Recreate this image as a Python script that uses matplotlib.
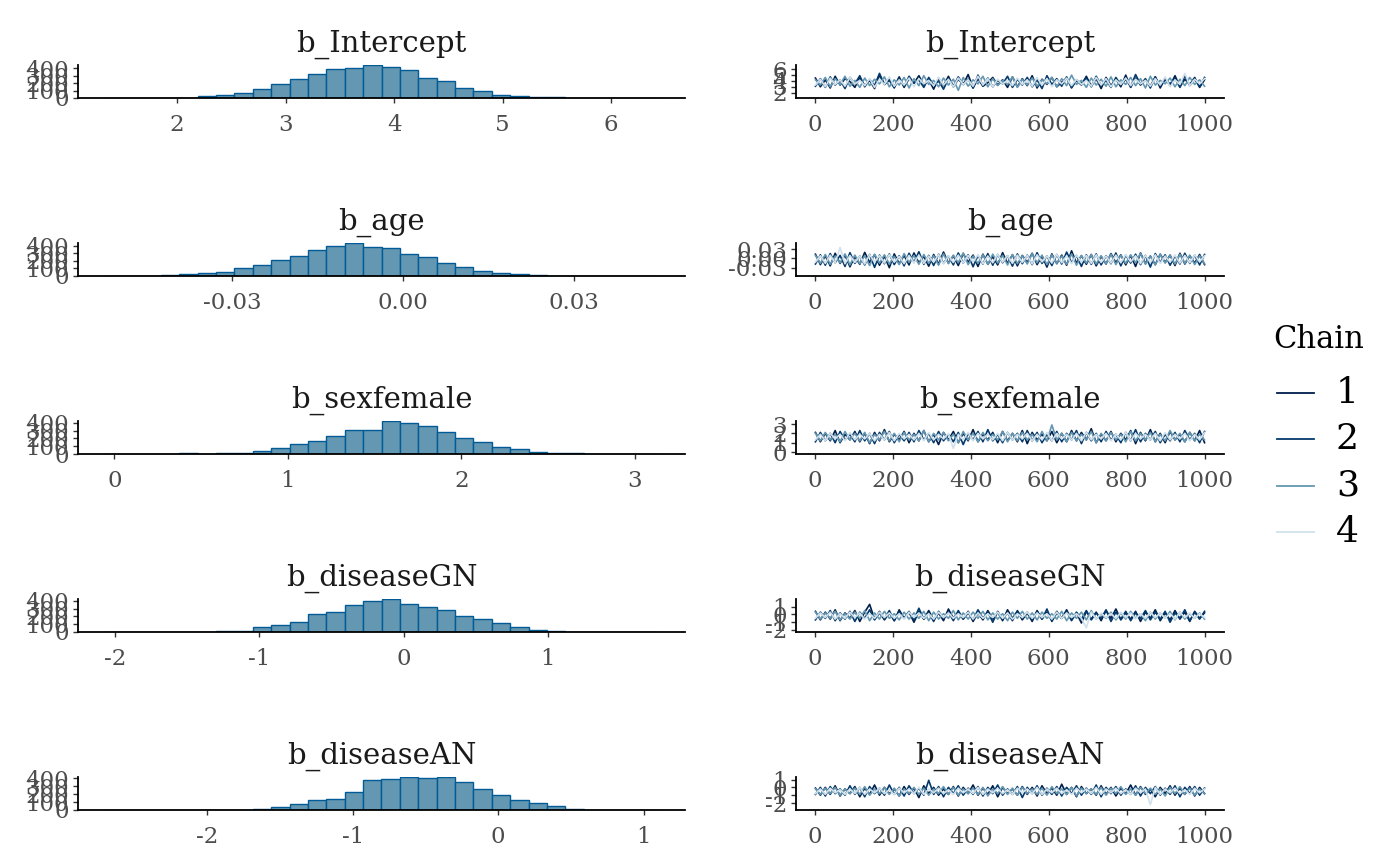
import numpy as np
import matplotlib
matplotlib.use("Agg")
import matplotlib.pyplot as plt
from matplotlib.lines import Line2D

plt.rcParams['font.family'] = ['DejaVu Serif']

# ---- data ----
params = ["b_Intercept", "b_age", "b_sexfemale", "b_diseaseGN", "b_diseaseAN"]

# histogram: left edge of first bin, bin width, counts for 30 bins
hist_start = [1.340, -0.05223, -0.050, -2.067, -2.698]
hist_width = [0.1695, 0.00323, 0.106, 0.12755, 0.1264]
hist_counts = [
    [1, 1, 2, 3, 6, 23, 40, 71, 121, 188, 259, 322, 385, 406, 438,
     415, 371, 268, 228, 134, 94, 40, 31, 17, 9, 5, 3, 2, 1, 1],
    [1, 2, 4, 13, 22, 45, 58, 107, 143, 206, 268, 340, 393, 429, 384,
     362, 295, 250, 174, 121, 63, 40, 22, 13, 5, 4, 2, 1, 1, 1],
    [1, 2, 3, 4, 9, 2, 9, 18, 36, 72, 125, 165, 237, 304, 313,
     420, 393, 358, 282, 206, 152, 85, 58, 31, 18, 9, 5, 2, 1, 1],
    [1, 1, 2, 2, 3, 4, 9, 18, 58, 89, 130, 232, 255, 349, 398,
     420, 362, 322, 286, 206, 161, 112, 58, 22, 13, 4, 2, 1, 1, 1],
    [1, 1, 2, 2, 3, 3, 2, 4, 18, 36, 80, 121, 143, 232, 371,
     384, 411, 407, 411, 353, 264, 192, 125, 85, 49, 18, 4, 2, 1, 1],
]

hist_xticks = [[2, 3, 4, 5, 6], [-0.03, 0.0, 0.03], [0, 1, 2, 3], [-2, -1, 0, 1], [-2, -1, 0, 1]]
hist_xlabels = [["2", "3", "4", "5", "6"], ["-0.03", "0.00", "0.03"], ["0", "1", "2", "3"],
                ["-2", "-1", "0", "1"], ["-2", "-1", "0", "1"]]
hist_yticks = [0, 100, 200, 300, 400]

# trace draws (thinned), one list per chain
trace_intercept = [
    [4.5, 3.0, 4.2, 2.8, 4.8, 3.3, 4.4, 3.9, 2.9, 4.6, 3.2, 4.1, 2.7, 5.0, 3.4, 4.3, 3.0, 4.7, 2.9, 4.4,
     3.6, 4.9, 3.3, 4.2, 2.6, 4.5, 3.2, 4.8, 3.0, 4.3, 3.4, 5.1, 2.8, 4.4, 3.1, 3.7, 4.6, 3.3, 4.2, 2.9,
     4.7, 3.0, 4.4, 3.2, 4.9, 2.8, 4.3, 3.4, 4.6, 3.0, 3.8, 4.5, 2.9, 4.1, 3.3, 4.8, 3.1, 4.4, 2.7, 4.6,
     3.2, 4.3, 3.0, 5.0, 2.9, 4.5, 3.3, 4.2, 3.1, 4.7, 2.8, 4.4, 3.2, 4.9, 3.0, 4.3, 3.4, 4.6, 2.9, 4.2],
    [3.1, 4.4, 2.9, 4.7, 3.3, 4.2, 2.7, 4.6, 3.5, 4.9, 3.0, 4.3, 3.2, 5.3, 3.4, 4.1, 2.8, 4.5, 3.1, 4.8,
     3.6, 4.2, 2.9, 4.6, 3.3, 4.0, 2.6, 4.4, 3.1, 4.7, 3.4, 4.3, 2.8, 5.0, 3.2, 4.5, 3.0, 4.1, 3.5, 4.8,
     2.9, 4.3, 3.3, 4.6, 3.0, 4.2, 2.7, 4.9, 3.4, 4.4, 3.1, 4.7, 2.8, 4.2, 3.6, 4.5, 3.0, 4.8, 3.2, 4.1,
     2.9, 4.6, 3.3, 4.3, 3.0, 5.1, 3.4, 4.4, 2.8, 4.7, 3.1, 4.2, 3.5, 4.5, 2.9, 4.9, 3.2, 4.3, 3.0, 4.6],
    [4.2, 3.3, 4.6, 3.0, 4.4, 3.4, 4.8, 3.1, 4.1, 2.9, 4.5, 3.2, 4.3, 3.5, 4.7, 3.0, 4.2, 3.3, 4.6, 2.8,
     4.4, 3.2, 4.9, 3.4, 4.1, 3.0, 4.5, 3.3, 4.3, 2.4, 4.6, 3.1, 4.2, 3.5, 4.8, 3.0, 4.4, 3.2, 4.1, 3.4,
     4.7, 2.9, 4.3, 3.3, 4.5, 3.1, 4.2, 3.5, 4.6, 3.0, 4.4, 3.2, 5.0, 3.4, 4.1, 2.9, 4.5, 3.3, 4.3, 3.1,
     4.7, 3.0, 4.2, 3.4, 4.6, 3.2, 4.4, 2.8, 4.8, 3.3, 4.1, 3.5, 4.5, 3.0, 4.3, 3.2, 4.6, 3.4, 4.2, 3.1],
    [3.3, 4.3, 3.0, 4.5, 3.4, 4.2, 3.1, 4.6, 3.5, 4.1, 3.2, 4.4, 2.9, 4.3, 3.4, 4.7, 3.1, 4.2, 3.3, 4.5,
     3.0, 4.4, 3.5, 4.1, 3.2, 4.6, 3.3, 4.3, 3.0, 4.5, 3.4, 4.2, 3.1, 4.8, 3.3, 4.4, 3.0, 4.3, 3.5, 4.1,
     3.2, 4.5, 3.4, 4.2, 3.1, 4.6, 3.3, 4.4, 3.0, 4.2, 3.5, 4.5, 3.2, 4.3, 3.4, 4.1, 3.1, 4.6, 3.3, 4.4,
     3.0, 4.2, 3.4, 4.5, 3.2, 4.3, 3.5, 4.1, 3.1, 4.4, 3.3, 4.7, 3.0, 4.2, 3.4, 5.3, 3.2, 4.3, 3.5, 4.4],
]
trace_age = [
    [0.014, -0.020, 0.009, -0.024, 0.017, -0.016, 0.011, -0.027, 0.006, -0.019, 0.020, -0.013, 0.012,
     -0.022, 0.008, -0.030, 0.015, -0.017, 0.010, -0.021, 0.018, -0.014, 0.007, -0.025, 0.013, -0.018,
     0.021, -0.015, 0.009, -0.023, 0.016, -0.012, 0.011, -0.026, 0.014, -0.019, 0.006, -0.021, 0.019,
     -0.016, 0.012, -0.024, 0.010, -0.013, 0.017, -0.020, 0.008, -0.028, 0.015, -0.017, 0.011, -0.022,
     0.025, -0.015, 0.009, -0.019, 0.013, -0.024, 0.007, -0.018, 0.016, -0.014, 0.012, -0.021, 0.010,
     -0.026, 0.018, -0.016, 0.008, -0.020, 0.014, -0.013, 0.011, -0.023, 0.017, -0.018, 0.009, -0.015,
     0.013, -0.020],
    [-0.018, 0.012, -0.022, 0.016, -0.014, 0.010, -0.026, 0.019, -0.016, 0.008, -0.021, 0.013, -0.029,
     0.011, -0.017, 0.015, -0.020, 0.009, -0.024, 0.017, -0.013, 0.022, -0.019, 0.010, -0.023, 0.014,
     -0.016, 0.008, -0.021, 0.018, -0.015, 0.012, -0.027, 0.010, -0.018, 0.016, -0.022, 0.013, -0.014,
     0.009, -0.025, 0.015, -0.017, 0.011, -0.020, 0.019, -0.016, 0.008, -0.023, 0.013, -0.018, 0.021,
     -0.014, 0.010, -0.026, 0.012, -0.019, 0.015, -0.021, 0.009, -0.017, 0.018, -0.024, 0.011, -0.015,
     0.014, -0.020, 0.010, -0.028, 0.016, -0.013, 0.012, -0.022, 0.009, -0.018, 0.017, -0.016, 0.011,
     -0.021, 0.013],
    [0.010, -0.016, 0.013, -0.019, 0.008, -0.014, 0.015, -0.021, 0.011, -0.017, 0.009, -0.023, 0.014,
     -0.015, 0.012, -0.018, 0.007, -0.020, 0.016, -0.013, 0.010, -0.019, 0.013, -0.016, 0.009, -0.022,
     0.015, -0.017, 0.011, -0.014, 0.018, -0.020, 0.008, -0.016, 0.012, -0.019, 0.014, -0.015, 0.010,
     -0.021, 0.013, -0.017, 0.009, -0.018, 0.016, -0.014, 0.011, -0.020, 0.012, -0.016, 0.008, -0.019,
     0.015, -0.022, 0.010, -0.015, 0.013, -0.018, 0.009, -0.017, 0.014, -0.020, 0.011, -0.016, 0.012,
     -0.014, 0.017, -0.019, 0.008, -0.021, 0.013, -0.015, 0.010, -0.018, 0.014, -0.016, 0.011, -0.020,
     0.009, -0.017],
    [-0.012, 0.009, -0.016, 0.011, -0.014, 0.036, -0.017, 0.010, -0.013, 0.008, -0.018, 0.012, -0.011,
     0.009, -0.015, 0.013, -0.012, 0.007, -0.017, 0.010, -0.014, 0.011, -0.016, 0.008, -0.012, 0.013,
     -0.018, 0.009, -0.013, 0.011, -0.015, 0.010, -0.011, 0.012, -0.017, 0.008, -0.014, 0.013, -0.012,
     0.009, -0.016, 0.011, -0.013, 0.010, -0.018, 0.012, -0.011, 0.008, -0.015, 0.013, -0.014, 0.009,
     -0.017, 0.011, -0.012, 0.010, -0.016, 0.012, -0.013, 0.008, -0.015, 0.011, -0.014, 0.013, -0.011,
     0.009, -0.017, 0.010, -0.013, 0.012, -0.016, 0.008, -0.012, 0.011, -0.015, 0.010, -0.014, 0.012,
     -0.011, 0.009],
]
trace_sexfemale = [
    [2.1, 1.1, 2.0, 1.2, 2.3, 1.0, 1.9, 1.3, 2.2, 1.1, 2.0, 0.9, 2.1, 1.2, 2.4, 1.1, 1.9, 1.3, 2.2, 1.0,
     2.0, 1.2, 2.3, 1.1, 1.9, 0.8, 2.1, 1.3, 2.2, 1.0, 2.0, 1.2, 2.4, 1.1, 1.9, 1.3, 2.1, 1.0, 2.2, 1.2,
     2.0, 1.1, 2.3, 0.9, 2.1, 1.3, 1.9, 1.2, 2.2, 1.0, 2.0, 1.1, 2.3, 1.2, 2.1, 1.3, 2.5, 1.0, 1.9, 1.2,
     2.2, 1.1, 2.0, 1.3, 2.3, 0.9, 2.1, 1.2, 2.4, 1.1, 2.0, 1.0, 2.2, 1.3, 1.9, 1.1, 2.1, 1.2, 2.3, 1.0],
    [1.1, 2.1, 1.2, 2.0, 1.0, 2.2, 1.3, 1.9, 1.1, 2.3, 1.2, 2.0, 0.9, 2.1, 1.3, 2.2, 1.0, 1.9, 1.2, 2.1,
     1.1, 2.3, 1.3, 2.0, 1.0, 2.2, 1.2, 1.9, 1.1, 2.1, 0.8, 2.0, 1.3, 2.2, 1.1, 2.4, 1.2, 1.9, 1.0, 2.1,
     1.3, 2.0, 1.1, 2.3, 1.2, 2.1, 1.0, 1.9, 1.2, 2.2, 1.1, 2.0, 1.3, 2.3, 0.9, 2.1, 1.2, 2.0, 1.1, 2.2,
     1.3, 1.9, 1.0, 2.1, 1.2, 2.4, 1.1, 2.0, 1.3, 2.2, 1.0, 1.9, 1.2, 2.1, 1.1, 2.3, 1.3, 2.0, 1.0, 2.2],
    [2.0, 1.2, 2.1, 1.3, 1.9, 1.1, 2.2, 1.3, 2.0, 1.2, 2.1, 1.0, 1.9, 1.3, 2.2, 1.2, 2.0, 1.1, 2.1, 1.3,
     1.9, 1.2, 2.3, 1.1, 2.0, 1.3, 2.1, 1.2, 1.9, 1.0, 2.2, 1.3, 2.0, 1.1, 2.1, 1.2, 1.9, 1.3, 2.2, 1.1,
     2.0, 1.2, 2.1, 1.3, 1.9, 1.1, 2.2, 1.2, 2.9, 1.3, 2.0, 1.1, 2.1, 1.2, 1.9, 1.3, 2.2, 1.0, 2.0, 1.2,
     2.1, 1.3, 1.9, 1.1, 2.2, 1.2, 2.0, 1.3, 2.1, 1.1, 1.9, 1.2, 2.3, 1.3, 2.0, 1.1, 2.1, 1.2, 1.9, 1.3],
    [1.3, 1.9, 1.2, 2.0, 1.4, 1.9, 1.2, 2.1, 1.3, 1.9, 1.4, 2.0, 1.2, 1.9, 1.3, 2.1, 1.2, 2.0, 1.4, 1.9,
     1.3, 2.0, 1.2, 2.1, 1.3, 1.9, 1.4, 2.0, 0.4, 1.9, 1.3, 2.1, 1.2, 2.0, 1.4, 1.9, 1.3, 2.0, 1.2, 2.1,
     1.3, 1.9, 1.4, 2.0, 1.2, 1.9, 1.3, 2.1, 1.2, 2.0, 1.4, 1.9, 1.3, 2.0, 1.2, 2.1, 1.3, 1.9, 1.4, 2.0,
     1.2, 1.9, 1.3, 2.1, 1.2, 2.0, 1.4, 1.9, 1.3, 2.0, 1.2, 2.1, 1.3, 1.9, 1.4, 2.0, 1.2, 1.9, 1.3, 2.1],
]
trace_diseaseGN = [
    [0.4, -0.7, 0.3, -0.6, 0.6, -0.8, 0.2, -0.5, 0.5, -0.9, 0.3, 1.3, -0.6, 0.4, -0.7, 0.2, -0.8, 0.6, -0.5, 0.3,
     -1.0, 0.4, -0.6, 0.5, -0.7, 0.2, -0.8, 0.7, -0.5, 0.3, -0.6, 0.4, -0.9, 0.2, -0.7, 0.5, -0.6, 0.3, -0.8, 0.6,
     -0.5, 0.4, -0.7, 0.2, -0.9, 0.5, -0.6, 0.3, -0.8, 0.4, -0.5, 0.6, -0.7, 0.2, -1.1, 0.4, -0.6, 0.3, -0.8, 0.5,
     -0.5, 0.7, -0.7, 0.2, -0.6, 0.4, -0.9, 0.3, -0.5, 0.6, -0.8, 0.2, -0.7, 0.5, -0.6, 0.3, -0.9, 0.4, -0.5, 0.2],
    [-0.7, 0.3, -0.5, 0.5, -0.8, 0.2, -0.6, 0.4, -0.9, 0.3, -0.5, 0.6, -0.7, 0.2, -0.6, 0.5, -0.8, 0.3, -0.5, 0.4,
     -0.7, 0.8, -0.6, 0.2, -0.9, 0.4, -0.5, 0.3, -0.8, 0.5, -0.6, 0.2, -0.7, 0.6, -0.5, 0.3, -1.0, 0.4, -0.6, 0.2,
     -0.8, 0.5, -0.5, 0.3, -0.7, 0.4, -0.6, 0.7, -0.9, 0.2, -0.5, 0.4, -0.8, 0.3, -0.6, 0.5, -0.7, 0.2, -0.5, 0.6,
     -0.9, 0.3, -0.6, 0.4, -0.8, 0.2, -0.5, 0.5, -0.7, 0.3, -0.6, 0.4, -1.0, 0.2, -0.5, 0.6, -0.8, 0.3, -0.6, 0.4],
    [0.3, -0.6, 0.2, -0.5, 0.4, -0.7, 0.1, -0.6, 0.3, -0.5, 0.5, -0.8, 0.2, -0.6, 0.4, -0.5, 0.1, -0.7, 0.3, -0.6,
     0.2, -0.5, 0.4, -0.8, 0.3, -0.6, 0.1, -0.5, 0.5, -0.7, 0.2, -0.6, 0.3, -0.5, 0.4, -0.7, 0.2, -0.6, 0.1, -0.8,
     0.3, -0.5, 0.4, -0.6, 0.2, -0.7, 0.3, -0.5, 0.1, -0.6, 0.4, -0.8, 0.2, -0.5, 0.3, -0.7, 0.5, -0.6, 0.1, -0.5,
     0.3, -0.7, 0.2, -0.6, 0.4, -0.5, 0.1, -0.8, 0.3, -0.6, 0.2, -0.5, 0.4, -0.7, 0.3, -0.6, 0.1, -0.5, 0.2, -0.6],
    [-0.5, 0.2, -0.4, 0.3, -0.6, 0.1, -0.5, 0.3, -0.4, 0.2, -0.6, 0.1, -0.5, 0.3, -0.4, 0.2, -0.5, 0.1, -0.6, 0.3,
     -0.4, 0.2, -0.5, 0.1, -0.6, 0.3, -0.4, 0.2, -0.5, 0.1, -0.4, 0.3, -0.6, 0.2, -0.5, 0.1, -0.4, 0.3, -0.5, 0.2,
     -0.6, 0.1, -0.4, 0.3, -0.5, 0.2, -0.4, 0.1, -0.6, 0.3, -0.5, 0.2, -0.4, 0.1, -0.5, -1.7, 0.3, -0.6, 0.2, -0.4,
     0.1, -0.5, 0.3, -0.4, 0.2, -0.6, 0.1, -0.5, 0.3, -0.4, 0.2, -0.5, 0.1, -0.6, 0.3, -0.4, 0.2, -0.5, 0.1, -0.4],
]
trace_diseaseAN = [
    [-0.1, -1.0, 0.0, -0.9, 0.2, -1.1, -0.2, -0.8, 0.1, -1.2, -0.1, -0.9, 0.3, -1.0, 0.0, -0.8, -0.2, -1.1, 0.1, -0.9,
     -0.1, -1.3, 0.2, -0.8, 0.0, -1.0, -0.2, -0.9, 0.1, -1.1, 0.0, -0.8, 0.3, -1.0, -0.1, -0.9, 0.2, -1.2, 0.0, -0.8,
     -0.2, -1.0, 0.1, -0.9, 0.0, -1.1, 0.2, -0.8, -0.1, -1.0, 0.4, -0.9, 0.0, -1.2, 0.1, -0.8, -0.2, -1.0, 0.2, -0.9,
     0.0, -1.1, -0.1, -0.8, 0.3, -1.0, 0.1, -0.9, -0.2, -1.2, 0.0, -0.8, 0.2, -1.0, -0.1, -0.9, 0.1, -1.1, 0.0, -0.8],
    [-0.9, 0.0, -1.1, 0.1, -0.8, -0.2, -1.0, 0.2, -0.9, 0.0, -1.2, 0.1, -0.8, -0.1, -1.0, 0.3, -0.9, 0.0, -1.1, 0.2,
     -0.8, -0.1, -1.0, 0.9, -0.9, 0.1, -1.2, 0.0, -0.8, 0.2, -1.0, -0.1, -0.9, 0.1, -1.1, 0.0, -0.8, 0.3, -1.0, -0.2,
     -0.9, 0.1, -1.3, 0.0, -0.8, 0.2, -1.0, -0.1, -0.9, 0.1, -1.1, 0.0, -0.8, 0.2, -1.0, -0.1, -0.9, 0.3, -1.2, 0.0,
     -0.8, 0.1, -1.0, -0.2, -0.9, 0.2, -1.1, 0.0, -0.8, 0.1, -1.0, -0.1, -0.9, 0.2, -1.2, 0.0, -0.8, 0.1, -1.0, -0.1],
    [-0.2, -0.9, -0.1, -0.8, 0.0, -1.0, -0.2, -0.8, -0.1, -0.9, 0.1, -1.0, -0.2, -0.8, 0.0, -0.9, -0.1, -1.1, -0.2, -0.8,
     0.0, -0.9, -0.1, -1.0, -0.2, -0.8, 0.1, -0.9, 0.0, -1.0, -0.2, -0.8, -0.1, -0.9, 0.0, -1.1, -0.2, -0.8, 0.1, -0.9,
     -0.1, -1.0, 0.0, -0.8, -0.2, -0.9, -0.1, -1.0, 0.1, -0.8, -0.2, -0.9, 0.0, -1.1, -0.1, -0.8, -0.2, -0.9, 0.0, -1.0,
     -0.1, -0.8, 0.1, -0.9, -0.2, -1.0, 0.0, -0.8, -0.1, -0.9, -0.2, -1.1, 0.0, -0.8, 0.1, -0.9, -0.1, -1.0, -0.2, -0.8],
    [-0.8, -0.2, -0.9, -0.1, -0.7, -0.3, -0.9, -0.2, -0.8, 0.0, -0.9, -0.2, -0.7, -0.1, -0.8, -0.3, -0.9, -0.1, -0.7, -0.2,
     -0.8, 0.0, -0.9, -0.2, -0.7, -0.1, -0.8, -0.3, -0.9, -0.1, -0.7, -0.2, -0.8, 0.0, -0.9, -0.2, -0.7, -0.1, -0.8, -0.3,
     -0.9, -0.1, -0.7, -0.2, -0.8, 0.0, -0.9, -0.2, -0.7, -0.1, -0.8, -0.3, -0.9, -0.1, -0.7, -0.2, -0.8, 0.0, -0.9, -0.2,
     -0.7, -0.1, -0.8, -0.3, -0.9, -0.1, -0.7, -0.2, -2.2, 0.0, -0.9, -0.2, -0.7, -0.1, -0.8, -0.3, -0.9, -0.1, -0.7, -0.2],
]
traces = [trace_intercept, trace_age, trace_sexfemale, trace_diseaseGN, trace_diseaseAN]

trace_yticks = [[2, 3, 4, 5, 6], [-0.03, 0.0, 0.03], [0, 1, 2, 3], [-2, -1, 0, 1], [-2, -1, 0, 1]]
trace_ylabels = [["2", "3", "4", "5", "6"], ["-0.03", "0.00", "0.03"], ["0", "1", "2", "3"],
                 ["-2", "-1", "0", "1"], ["-2", "-1", "0", "1"]]
iter_ticks = [0, 200, 400, 600, 800, 1000]
n_iter = 1000

chains = ["1", "2", "3", "4"]
chain_colors = ["#011f4b", "#03396c", "#6497b1", "#d1e1ec"]
hist_fill = "#6497b1"
hist_edge = "#005b96"

# ---- figure ----
W, H = 1400, 866
fig = plt.figure(figsize=(W / 100, H / 100), dpi=100)

tick_color = "#4d4d4d"
axis_h = 32.7


def style(ax):
    for s in ["top", "right"]:
        ax.spines[s].set_visible(False)
    for s in ["left", "bottom"]:
        ax.spines[s].set_linewidth(1.3)
        ax.spines[s].set_color("black")
    ax.tick_params(axis="both", length=3.5, width=1.0, color="#333333",
                   labelcolor=tick_color, labelsize=16.5)
    ax.tick_params(axis="x", pad=8)
    ax.tick_params(axis="y", pad=3)


for i, p in enumerate(params):
    bottom_px = 98 + 178 * i
    b = 1 - bottom_px / H

    # histogram
    ax = fig.add_axes([78 / W, b, 607 / W, axis_h / H])
    counts = np.array(hist_counts[i])
    edges = hist_start[i] + hist_width[i] * np.arange(len(counts) + 1)
    ax.bar(edges[:-1], counts, width=hist_width[i], align="edge",
           color=hist_fill, edgecolor=hist_edge, linewidth=1.0)
    span = edges[-1] - edges[0]
    ax.set_xlim(edges[0] - 0.05 * span, edges[-1] + 0.05 * span)
    ax.set_ylim(0, counts.max())
    ax.set_xticks(hist_xticks[i])
    ax.set_xticklabels(hist_xlabels[i])
    ax.set_yticks(hist_yticks)
    ax.set_yticklabels([str(t) for t in hist_yticks])
    style(ax)
    ax.annotate(p, xy=(0.5, 1), xycoords="axes fraction", xytext=(0, 10),
                textcoords="offset points", ha="center", va="baseline",
                fontsize=21, color="#1a1a1a")

    # trace (same draws, so the y range follows the histogram range)
    ax2 = fig.add_axes([796 / W, b, 428 / W, axis_h / H])
    for c, vals in enumerate(traces[i]):
        x = np.linspace(1, n_iter, len(vals))
        ax2.plot(x, vals, color=chain_colors[c], linewidth=1.2)
    ax2.set_ylim(edges[0] - 0.05 * span, edges[-1] + 0.05 * span)
    ax2.set_xlim(1 - 0.05 * (n_iter - 1), n_iter + 0.05 * (n_iter - 1))
    ax2.set_xticks(iter_ticks)
    ax2.set_xticklabels([str(t) for t in iter_ticks])
    ax2.set_yticks(trace_yticks[i])
    ax2.set_yticklabels(trace_ylabels[i])
    style(ax2)
    ax2.annotate(p, xy=(0.5, 1), xycoords="axes fraction", xytext=(0, 10),
                 textcoords="offset points", ha="center", va="baseline",
                 fontsize=21, color="#1a1a1a")

# legend
fig.text(1273 / W, 1 - 340 / H, "Chain", fontsize=22, ha="left", va="center", color="black")
for k, ch in enumerate(chains):
    y = 1 - (393 + 46.3 * k) / H
    fig.add_artist(Line2D([1277 / W, 1314 / W], [y, y], color=chain_colors[k], linewidth=1.3))
    fig.text(1336 / W, y, ch, fontsize=26, ha="left", va="center", color="black")

fig.savefig("out.png", dpi=100)
